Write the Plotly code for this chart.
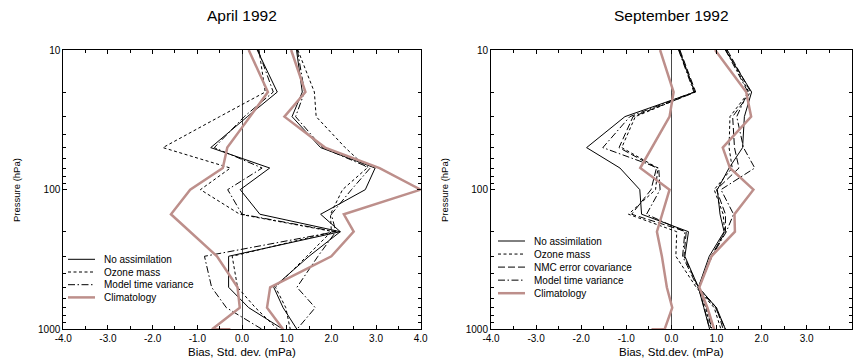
import plotly.graph_objects as go

# ---------------- data ----------------
P = [10, 20, 30, 50, 70, 100, 150, 200, 300, 500, 700, 1000]
P_CLIM_BIAS = [10, 20, 30, 50, 70, 100, 150, 200, 300, 500, 700, 1000, 1000]

# April 1992 (left)
apr_bias_noassim = [0.34, 0.79, 0.12, -0.70, 0.62, -0.04, 0.40, 2.20, -0.30, -0.30, 0.15, 0.92]
apr_bias_ozmass = [0.38, 0.52, -0.50, -1.77, -0.26, -0.93, -0.05, 2.05, -0.22, -0.10, 0.30, 0.80]
apr_bias_modeltv = [0.36, 0.70, 0.05, -0.62, 0.45, -0.32, 0.00, 2.10, -0.84, -0.68, -0.35, 0.45]
apr_bias_clim = [0.15, 0.58, 0.18, -0.33, -0.43, -1.16, -1.59, -1.16, -0.56, -0.10, -0.05, -0.67, -0.26]

apr_std_noassim = [1.22, 1.35, 1.12, 1.76, 2.98, 2.76, 1.76, 2.20, 1.50, 0.71, 0.92, 1.23]
apr_std_ozmass = [1.25, 1.62, 1.66, 2.31, 2.80, 2.25, 1.98, 2.00, 1.45, 0.75, 0.98, 1.08]
apr_std_modeltv = [1.24, 1.40, 1.20, 1.80, 2.87, 2.45, 2.00, 2.10, 1.70, 1.23, 1.64, 1.23]
apr_std_clim = [1.10, 1.42, 0.95, 1.86, 3.08, 4.00, 2.28, 2.50, 2.00, 0.63, 0.56, 0.92]

# September 1992 (right)
sep_bias_noassim = [0.17, 0.52, -1.03, -1.88, -1.14, -0.70, -0.66, 0.38, 0.30, 0.60, 1.00, 1.20]
sep_bias_ozmass = [0.18, 0.52, -0.80, -1.10, -0.30, -0.35, -0.95, 0.12, 0.10, 0.55, 0.95, 1.10]
sep_bias_nmc = [0.19, 0.54, -0.85, -1.16, -0.33, -0.45, -0.88, 0.33, 0.28, 0.60, 1.00, 1.15]
sep_bias_modeltv = [0.16, 0.50, -0.92, -1.52, -0.28, -0.25, -0.55, 0.30, 0.25, 0.58, 0.98, 1.20]
sep_bias_clim = [-0.25, 0.05, -0.04, -0.43, -0.69, -0.04, -0.20, -0.32, -0.21, -0.10, 0.02, -0.15, -0.44]

sep_std_noassim = [1.20, 1.78, 1.62, 1.58, 1.28, 1.02, 1.08, 1.17, 0.84, 0.60, 0.72, 0.85]
sep_std_ozmass = [1.22, 1.72, 1.30, 1.28, 1.35, 0.95, 1.15, 1.18, 0.90, 0.62, 0.76, 0.88]
sep_std_nmc = [1.24, 1.76, 1.36, 1.40, 1.50, 1.00, 1.20, 1.20, 0.88, 0.60, 0.73, 0.85]
sep_std_modeltv = [1.20, 1.70, 1.45, 1.60, 1.85, 1.10, 1.38, 1.22, 0.90, 0.62, 0.78, 0.90]
sep_std_clim = [0.97, 1.66, 1.77, 1.14, 1.30, 1.82, 1.40, 1.41, 0.89, 0.62, 0.80, 0.95]

x_ticks = [-4.0, -3.0, -2.0, -1.0, 0.0, 1.0, 2.0, 3.0, 4.0]
x_ticktext = ["-4.0", "-3.0", "-2.0", "-1.0", "0.0", "1.0", "2.0", "3.0", "4.0"]
x_minor = [-3.5, -2.5, -1.5, -0.5, 0.5, 1.5, 2.5, 3.5]
y_ticks = [10, 100, 1000]
y_ticktext = ["10", "100", "1000"]
y_minor = [20, 30, 40, 50, 60, 70, 80, 90, 200, 300, 400, 500, 600, 700, 800, 900]

left_legend = ["No assimilation", "Ozone mass", "Model time variance", "Climatology"]
right_legend = ["No assimilation", "Ozone mass", "NMC error covariance", "Model time variance", "Climatology"]

# ---------------- style ----------------
W, H = 858, 358
FONT = "Liberation Sans, Arial, Helvetica, sans-serif"
BLACK = "#000000"
PINK = "#bd8f8b"
STYLE = {
    "No assimilation": dict(color=BLACK, width=1, dash="solid"),
    "Ozone mass": dict(color=BLACK, width=1, dash="3px,2.5px"),
    "NMC error covariance": dict(color=BLACK, width=1, dash="7px,3px"),
    "Model time variance": dict(color=BLACK, width=1, dash="7px,2.5px,1.5px,2.5px"),
    "Climatology": dict(color=PINK, width=2.5, dash="solid"),
}


def px(x):
    return x / W


def py(y):
    return 1 - y / H


fig = go.Figure()


def add(xv, pv, name, xa, ya):
    fig.add_trace(go.Scatter(x=xv, y=pv, mode="lines", name=name, xaxis=xa, yaxis=ya,
                             showlegend=False, line=STYLE[name], hoverinfo="skip"))


# left panel
add(apr_bias_noassim, P, "No assimilation", "x", "y")
add(apr_bias_ozmass, P, "Ozone mass", "x", "y")
add(apr_bias_modeltv, P, "Model time variance", "x", "y")
add(apr_std_noassim, P, "No assimilation", "x", "y")
add(apr_std_ozmass, P, "Ozone mass", "x", "y")
add(apr_std_modeltv, P, "Model time variance", "x", "y")
add(apr_bias_clim, P_CLIM_BIAS, "Climatology", "x", "y")
add(apr_std_clim, P, "Climatology", "x", "y")

# right panel
add(sep_bias_noassim, P, "No assimilation", "x2", "y2")
add(sep_bias_ozmass, P, "Ozone mass", "x2", "y2")
add(sep_bias_nmc, P, "NMC error covariance", "x2", "y2")
add(sep_bias_modeltv, P, "Model time variance", "x2", "y2")
add(sep_std_noassim, P, "No assimilation", "x2", "y2")
add(sep_std_ozmass, P, "Ozone mass", "x2", "y2")
add(sep_std_nmc, P, "NMC error covariance", "x2", "y2")
add(sep_std_modeltv, P, "Model time variance", "x2", "y2")
add(sep_bias_clim, P_CLIM_BIAS, "Climatology", "x2", "y2")
add(sep_std_clim, P, "Climatology", "x2", "y2")

TOP, BOT = 50.0, 329.3
LEFT1, RIGHT1 = 63.3, 420.7
LEFT2, RIGHT2 = 491.0, 851.7


def xaxis(dom, anchor):
    return dict(domain=dom, anchor=anchor, range=[-4, 4], tickmode="array",
                tickvals=x_ticks, ticktext=x_ticktext, ticks="inside", ticklen=4,
                tickcolor=BLACK, showline=True, linecolor=BLACK, linewidth=1,
                mirror="allticks", showgrid=False, zeroline=True, zerolinecolor="#4a4a4a",
                zerolinewidth=1.3, tickfont=dict(family=FONT, size=10, color=BLACK),
                minor=dict(tickmode="array", tickvals=x_minor, ticks="inside", ticklen=3,
                           tickcolor=BLACK, showgrid=False),
                automargin=False, fixedrange=True)


def yaxis(anchor):
    return dict(domain=[py(BOT), py(TOP)], anchor=anchor, type="log", range=[3, 1],
                tickmode="array", tickvals=y_ticks, ticktext=y_ticktext, ticks="inside",
                ticklen=4, tickcolor=BLACK, showline=True, linecolor=BLACK, linewidth=1,
                mirror="allticks", showgrid=False, zeroline=False,
                tickfont=dict(family=FONT, size=10, color=BLACK),
                minor=dict(tickmode="array", tickvals=y_minor, ticks="inside", ticklen=3,
                           tickcolor=BLACK, showgrid=False),
                automargin=False, fixedrange=True)


annotations = []
shapes = []


def text(x, y, s, size, angle=0, xanchor="center"):
    annotations.append(dict(x=px(x), y=py(y), xref="paper", yref="paper", text=s,
                            showarrow=False, xanchor=xanchor, yanchor="middle",
                            textangle=angle, font=dict(family=FONT, size=size, color=BLACK)))


text(242, 15, "April 1992", 15.5)
text(671, 15, "September 1992", 15.5)
text(242, 352, "Bias, Std. dev. (mPa)", 11.5)
text(671.5, 352, "Bias, Std.dev. (mPa)", 11.5)
text(16, 190, "Pressure (hPa)", 9.5, angle=-90)
text(444, 190, "Pressure (hPa)", 9.5, angle=-90)


def legend(names, x0, y0, dy):
    for i, n in enumerate(names):
        y = y0 + i * dy
        st = STYLE[n]
        shapes.append(dict(type="line", xref="paper", yref="paper", x0=px(x0), x1=px(x0 + 27),
                           y0=py(y), y1=py(y), line=dict(color=st["color"], width=st["width"],
                                                        dash=st["dash"])))
        text(x0 + 33.5, y, n, 10, xanchor="left")


legend(left_legend, 68, 259.3, 12.7)
legend(right_legend, 498, 241, 13.05)

fig.update_layout(
    width=W, height=H, margin=dict(l=0, r=0, t=0, b=0),
    paper_bgcolor="white", plot_bgcolor="white", showlegend=False,
    xaxis=xaxis([px(LEFT1), px(RIGHT1)], "y"),
    yaxis=yaxis("x"),
    xaxis2=xaxis([px(LEFT2), px(RIGHT2)], "y2"),
    yaxis2=yaxis("x2"),
    annotations=annotations, shapes=shapes,
)

fig.write_html("out.html")
